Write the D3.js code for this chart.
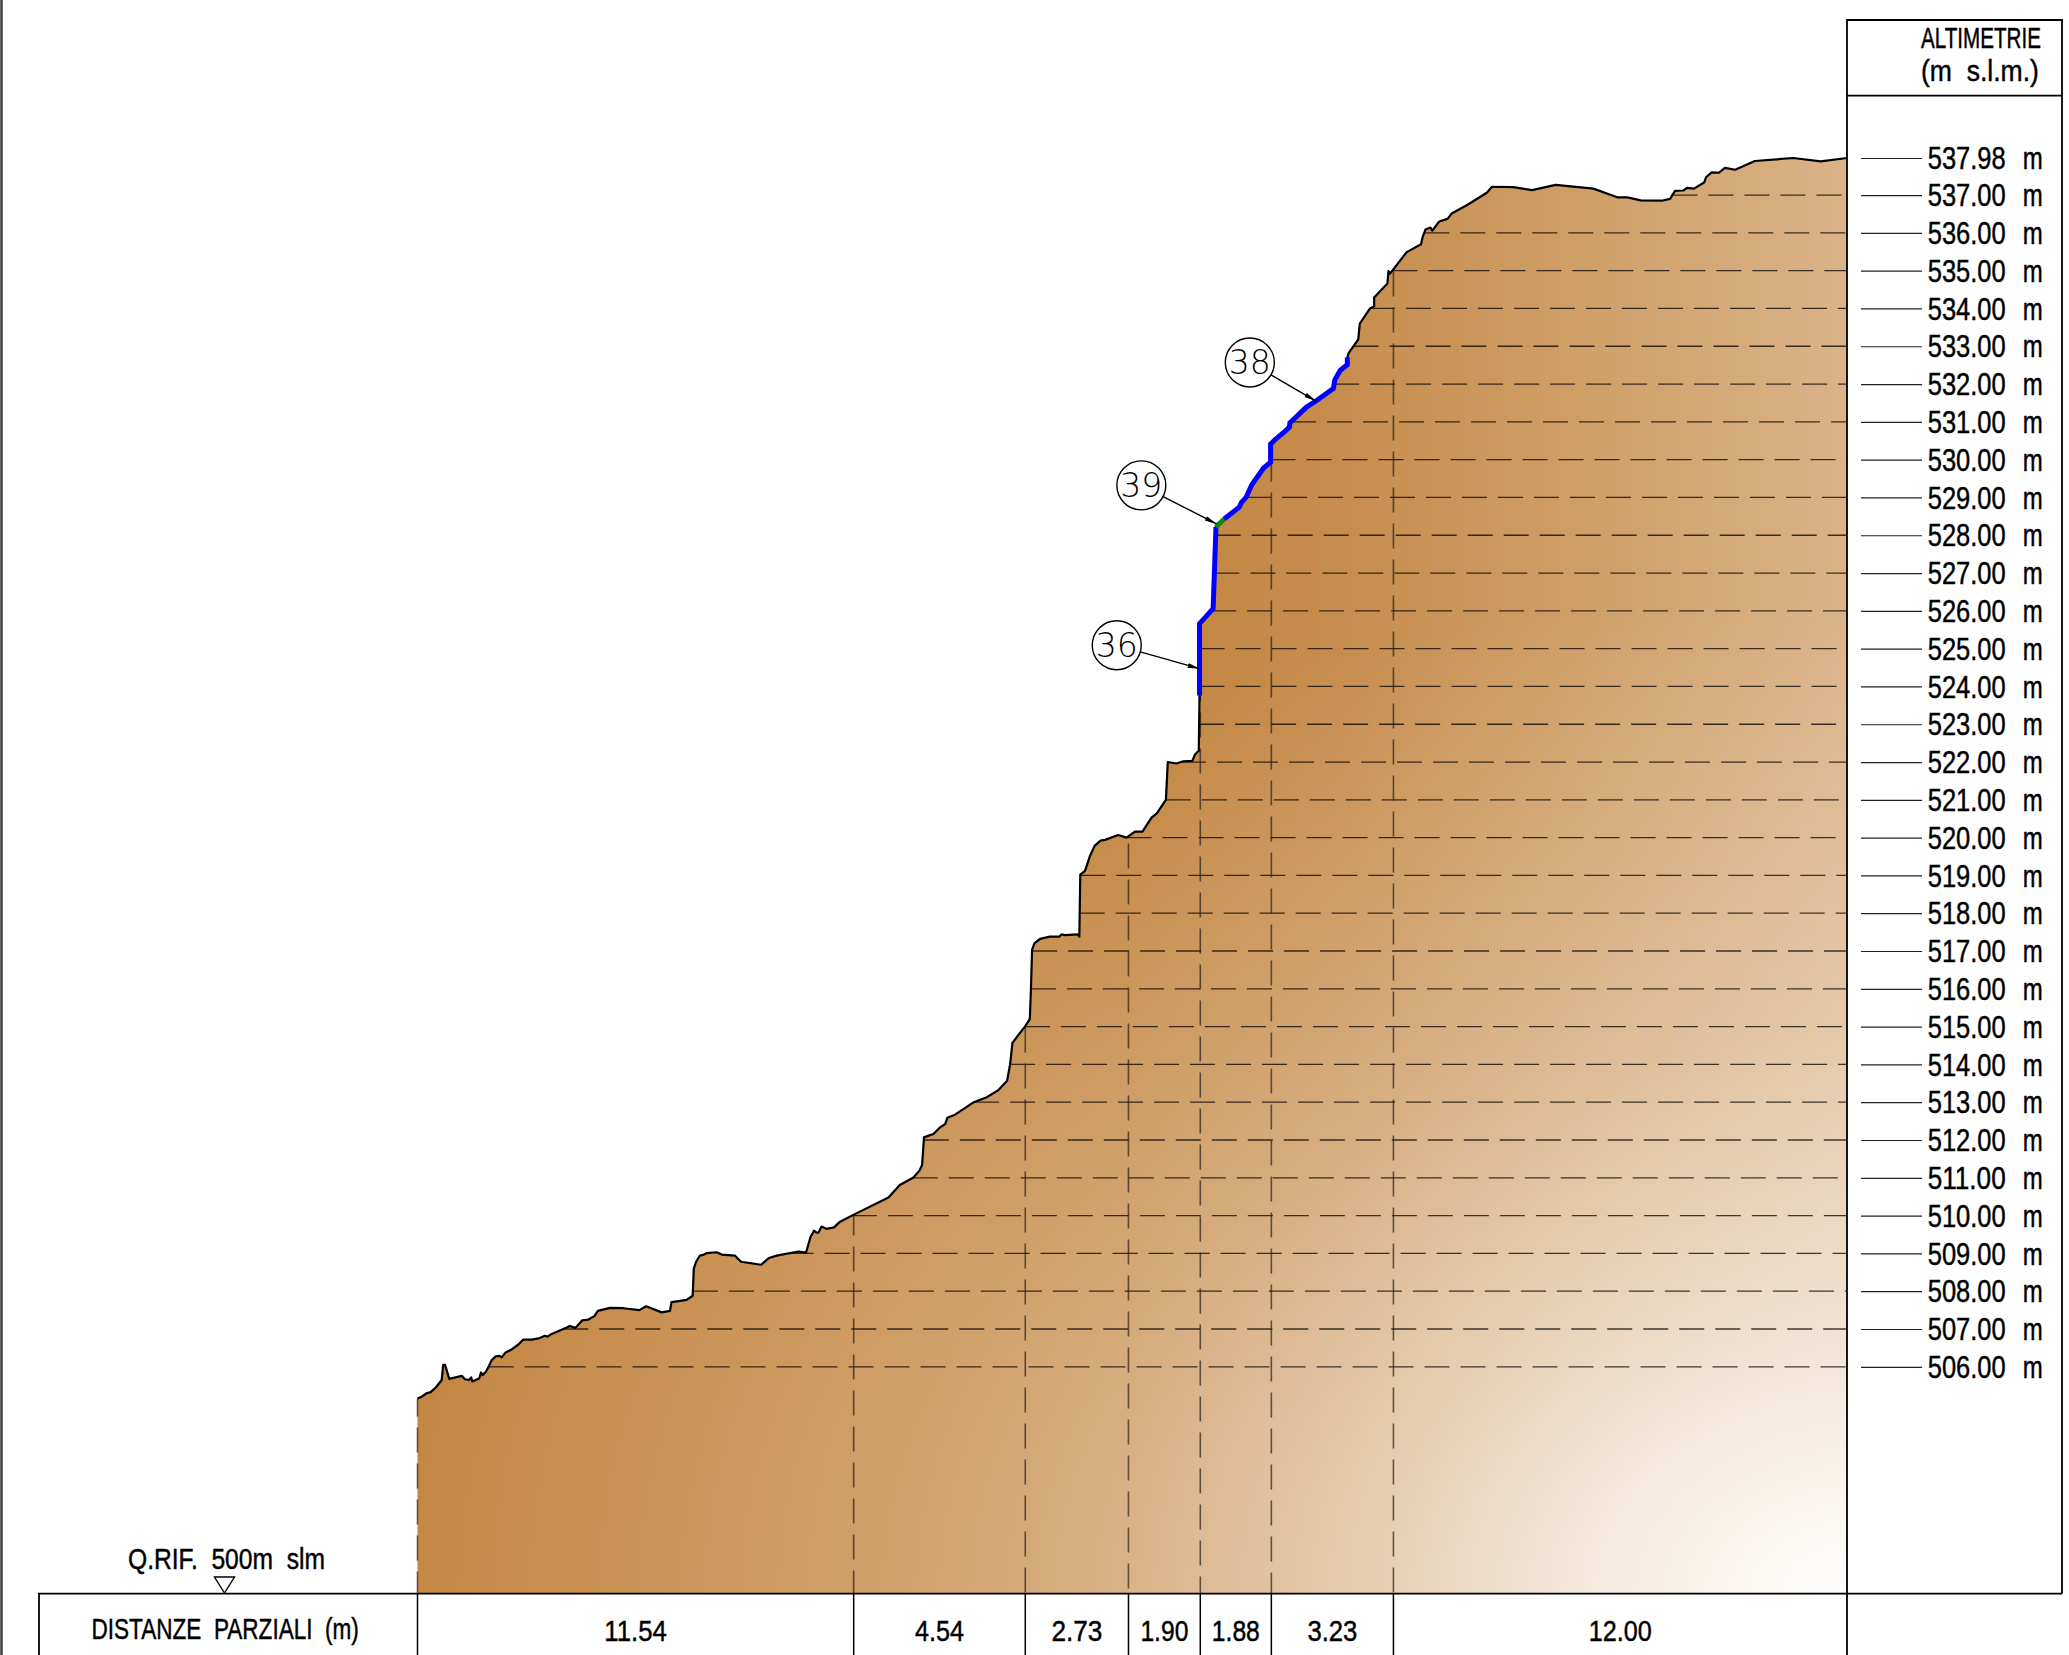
<!DOCTYPE html>
<html>
<head>
<meta charset="utf-8">
<script src="https://cdnjs.cloudflare.com/ajax/libs/d3/7.8.5/d3.min.js"></script>
<style>
  html, body { margin: 0; padding: 0; background: #fff; }
  svg { display: block; }
  text { font-family: "Liberation Sans", sans-serif; fill: #000; white-space: pre; stroke: #000; stroke-width: 0.45px; }
</style>
</head>
<body>
<div id="chart"></div>
<script>
// distance along the section (m), elevation (m s.l.m.)
const profile = [
  [0,505.16],[0.11,505.21],[0.24,505.30],[0.35,505.33],[0.49,505.46],[0.64,505.65],[0.68,506.05],[0.73,506.05],
  [0.84,505.68],[1.17,505.76],[1.26,505.67],[1.36,505.65],[1.42,505.72],[1.45,505.61],[1.63,505.69],[1.68,505.85],
  [1.72,505.78],[1.81,505.87],[1.89,506.02],[1.96,506.17],[2.07,506.28],[2.17,506.29],[2.23,506.25],[2.32,506.37],
  [2.49,506.46],[2.67,506.59],[2.80,506.72],[3.02,506.72],[3.20,506.75],[3.37,506.82],[3.44,506.80],[3.55,506.87],
  [3.95,507.04],[4.03,507.08],[4.18,507.03],[4.36,507.23],[4.52,507.25],[4.68,507.34],[4.77,507.48],[5.09,507.56],
  [5.45,507.55],[5.87,507.50],[6.05,507.60],[6.46,507.44],[6.68,507.48],[6.72,507.71],[6.86,507.73],[7.12,507.77],
  [7.28,507.88],[7.31,508.60],[7.37,508.78],[7.47,508.94],[7.56,508.96],[7.65,509.01],[7.91,509.03],[8.05,508.97],
  [8.40,508.94],[8.56,508.78],[9.09,508.70],[9.30,508.88],[9.50,508.94],[10.08,509.05],[10.28,509.02],[10.40,509.44],
  [10.49,509.60],[10.56,509.55],[10.61,509.55],[10.69,509.71],[10.82,509.65],[11.02,509.69],[11.18,509.84],[11.53,510.02],
  [12.46,510.48],[12.76,510.81],[13.12,511.01],[13.28,511.19],[13.35,511.34],[13.40,512.07],[13.56,512.13],[13.65,512.16],
  [13.82,512.33],[13.96,512.42],[14.02,512.59],[14.22,512.67],[14.70,512.99],[15.06,513.13],[15.37,513.32],[15.60,513.57],
  [15.68,514.01],[15.74,514.57],[15.90,514.78],[16.07,515.00],[16.20,515.20],[16.23,516.01],[16.26,517.03],[16.32,517.20],
  [16.47,517.32],[16.73,517.38],[16.98,517.38],[17.04,517.44],[17.13,517.42],[17.46,517.44],[17.51,517.38],[17.535,519.02],
  [17.66,519.12],[17.79,519.51],[17.92,519.79],[18.07,519.92],[18.19,519.94],[18.54,520.07],[18.76,520.00],[18.98,520.16],
  [19.18,520.16],[19.42,520.53],[19.56,520.64],[19.80,521.00],[19.85,522.00],[20.08,521.96],[20.26,522.02],[20.50,522.03],
  [20.57,522.20],[20.67,522.30],[20.69,523.76],[20.69,525.66],[21.05,526.06],[21.125,528.22],[21.34,528.43],[21.74,528.74],
  [21.80,528.87],[21.92,529.00],[22.07,529.33],[22.38,529.77],[22.57,529.93],[22.57,530.41],[22.69,530.53],[22.95,530.75],
  [23.07,530.86],[23.08,530.97],[23.52,531.39],[23.77,531.55],[24.23,531.88],[24.27,532.11],[24.41,532.36],[24.60,532.51],
  [24.60,532.70],[24.63,532.81],[24.89,533.18],[24.93,533.60],[25.20,534.00],[25.31,534.06],[25.31,534.29],[25.66,534.66],
  [25.69,534.99],[25.73,534.92],[26.17,535.49],[26.55,535.70],[26.59,535.88],[26.67,536.09],[26.80,536.14],[26.85,536.06],
  [27.03,536.30],[27.25,536.37],[27.36,536.51],[27.76,536.73],[28.29,537.06],[28.43,537.22],[28.99,537.21],[29.49,537.13],
  [30.11,537.27],[31.11,537.17],[31.74,536.94],[32.01,536.94],[32.36,536.86],[32.92,536.85],[33.14,536.90],[33.27,537.11],
  [33.49,537.12],[33.59,537.19],[33.77,537.17],[34.04,537.33],[34.09,537.47],[34.24,537.60],[34.43,537.59],[34.59,537.72],
  [34.86,537.67],[35.38,537.90],[36.40,537.98],[37.12,537.89],[37.82,537.98]
];
const blueStretch = [
  [20.69,523.76],[20.69,525.66],[21.05,526.06],[21.125,528.22]
];
const blueStretchUpper = [
  [21.34,528.43],[21.74,528.74],[21.80,528.87],[21.92,529.00],[22.07,529.33],[22.38,529.77],[22.57,529.93],[22.57,530.41],
  [22.69,530.53],[22.95,530.75],[23.07,530.86],[23.08,530.97],[23.52,531.39],[23.77,531.55],[24.23,531.88],[24.27,532.11],
  [24.41,532.36],[24.60,532.51],[24.60,532.70]
];
const greenStretch = [[21.125,528.22],[21.34,528.43]];

const elevationTicks = [537.98,537,536,535,534,533,532,531,530,529,528,527,526,525,524,523,522,521,520,
  519,518,517,516,515,514,513,512,511,510,509,508,507,506];
const partialDistances = [11.54,4.54,2.73,1.90,1.88,3.23,12.00];
const partialLabels = ["11.54","4.54","2.73","1.90","1.88","3.23","12.00"];

// callouts: number, where the circle sits and the point of the profile it refers to
const callouts = [
  {label:"36", d:18.50, e:525.09, to:[20.69,524.47]},
  {label:"38", d:22.02, e:532.57, to:[23.77,531.55]},
  {label:"39", d:19.15, e:529.32, to:[21.14,528.30]}
];

const width = 2069, height = 1655;
const svg = d3.select("#chart").append("svg").attr("width", width).attr("height", height);

const x = d3.scaleLinear().domain([0, 37.82]).range([417.5, 1847]);
const y = d3.scaleLinear().domain([500, 537.98]).range([1593.6, 158]);

// ground: left to right ramp, with a white glow from the bottom right corner on top
const defs = svg.append("defs");
const ramp = defs.append("linearGradient")
  .attr("id", "ground").attr("gradientUnits", "userSpaceOnUse")
  .attr("x1", 417).attr("y1", 0).attr("x2", 1847).attr("y2", 0);
[[0,"#c3843f"],[0.5,"#c3853f"],[0.65,"#c78d4e"],[0.79,"#ce9c63"],[1,"#dab388"]]
  .forEach(s => ramp.append("stop").attr("offset", s[0]).attr("stop-color", s[1]));
const glow = defs.append("radialGradient")
  .attr("id", "glow").attr("gradientUnits", "userSpaceOnUse")
  .attr("cx", 0).attr("cy", 0).attr("r", 1)
  .attr("gradientTransform", "translate(1847,1593) scale(1500,1000)");
[[0,0.98],[0.065,0.9],[0.165,0.78],[0.3,0.58],[0.55,0.3],[0.66,0.22],[0.765,0.15],[1,0]]
  .forEach(s => glow.append("stop").attr("offset", s[0]).attr("stop-color", "#fff").attr("stop-opacity", s[1]));

defs.append("marker").attr("id", "arrow")
  .attr("viewBox", "0 0 12 6").attr("refX", 12).attr("refY", 3)
  .attr("markerWidth", 12).attr("markerHeight", 6).attr("markerUnits", "userSpaceOnUse")
  .attr("orient", "auto")
  .append("path").attr("d", "M0,0.6L12,3L0,5.4Z").attr("fill", "#000");

const area = d3.area().x(d => x(d[0])).y0(y(500)).y1(d => y(d[1]));
const line = d3.line().x(d => x(d[0])).y(d => y(d[1]));

// elevation of the ground at a distance, and the last place a level meets it
function groundAt(dist) {
  const i = d3.bisectLeft(profile.map(p => p[0]), dist);
  if (i <= 0) return profile[0][1];
  if (i >= profile.length) return profile[profile.length - 1][1];
  const a = profile[i - 1], b = profile[i];
  return b[0] === a[0] ? b[1] : a[1] + (b[1] - a[1]) * (dist - a[0]) / (b[0] - a[0]);
}
function crossing(level) {
  for (let i = profile.length - 1; i > 0; i--) {
    const a = profile[i - 1], b = profile[i];
    if (a[1] <= level && b[1] >= level) {
      return b[1] === a[1] ? a[0] : a[0] + (b[0] - a[0]) * (level - a[1]) / (b[1] - a[1]);
    }
  }
  return 0;
}

// squeeze a text to a width, the original drawing font is a narrow one
function squeeze(node, len) {
  const left = +node.getAttribute("x") || 0, base = +node.getAttribute("y") || 0;
  const sx = len / node.getComputedTextLength();
  node.setAttribute("x", 0);
  node.setAttribute("y", 0);
  node.setAttribute("transform", `translate(${left},${base}) scale(${sx},1)`);
}

svg.append("path").datum(profile).attr("d", area).attr("fill", "url(#ground)");
svg.append("path").datum(profile).attr("d", area).attr("fill", "url(#glow)");

// horizontal level lines
svg.append("g").selectAll("line")
  .data(elevationTicks.filter(v => v !== 537.98))
  .join("line")
  .attr("x1", d => x(crossing(d))).attr("x2", x(37.82))
  .attr("y1", d => y(d)).attr("y2", d => y(d))
  .attr("stroke", "#000").attr("stroke-opacity", 0.75).attr("stroke-width", 1.3)
  .attr("stroke-dasharray", "25 11");

// vertical dashed lines at each section point
const stations = [0].concat(Array.from(d3.cumsum(partialDistances)));
const lastDash = [22, 23, 26, 30, 17, 21, 26];
svg.append("g").selectAll("line")
  .data(stations.slice(0, -1))
  .join("line")
  .attr("x1", d => x(d)).attr("x2", d => x(d))
  .attr("y1", y(500)).attr("y2", d => y(groundAt(d)))
  .attr("stroke", "#2a2018").attr("stroke-opacity", 0.7).attr("stroke-width", 1.6)
  .attr("stroke-dasharray", "25 11")
  .attr("stroke-dashoffset", (d, i) => 25 - lastDash[i]);

// ground profile
svg.append("path").datum(profile).attr("d", line)
  .attr("fill", "none").attr("stroke", "#000").attr("stroke-width", 2.2).attr("stroke-linejoin", "round");
[blueStretch, blueStretchUpper].forEach(s => {
  svg.append("path").datum(s).attr("d", line)
    .attr("fill", "none").attr("stroke", "#0000ff").attr("stroke-width", 5);
});
svg.append("path").datum(greenStretch).attr("d", line)
  .attr("fill", "none").attr("stroke", "#0a8a12").attr("stroke-width", 5);

// numbered callouts
const r = 24.5;
const call = svg.append("g").selectAll("g").data(callouts).join("g");
call.append("line")
  .each(function(d) {
    const cx = x(d.d), cy = y(d.e), tx = x(d.to[0]), ty = y(d.to[1]);
    const len = Math.hypot(tx - cx, ty - cy);
    d3.select(this)
      .attr("x1", cx + (tx - cx) / len * r).attr("y1", cy + (ty - cy) / len * r)
      .attr("x2", tx).attr("y2", ty);
  })
  .attr("stroke", "#000").attr("stroke-width", 1.4).attr("marker-end", "url(#arrow)");
call.append("circle")
  .attr("cx", d => x(d.d)).attr("cy", d => y(d.e)).attr("r", r)
  .attr("fill", "#fff").attr("stroke", "#000").attr("stroke-width", 1.4);
call.append("text")
  .attr("x", d => x(d.d)).attr("y", d => y(d.e) + 12)
  .attr("text-anchor", "middle")
  .style("font-family", '"DejaVu Sans ExtraLight", "DejaVu Sans", sans-serif')
  .style("font-weight", 200)
  .style("font-size", "33px")
  .style("stroke-width", 0)
  .text(d => d.label);

// altimetry column
const frame = svg.append("g").attr("fill", "none").attr("stroke", "#000").attr("stroke-width", 1.8);
frame.append("path").attr("d", "M1847,1655V20H2062V1593.6");
frame.append("path").attr("d", "M1847,95.7H2062");
frame.append("path").attr("d", "M39,1655V1593.6H2062");
frame.append("path").attr("d", "M1.5,0V1655").attr("stroke", "#444").attr("stroke-width", 2.6);

const yAxis = d3.axisRight(y)
  .tickValues(elevationTicks)
  .tickSize(61)
  .tickPadding(5.7)
  .tickFormat(d => d.toFixed(2));
const axisG = svg.append("g").attr("transform", "translate(1861,0)").call(yAxis);
axisG.select(".domain").remove();
axisG.selectAll(".tick line").attr("stroke", "#222").attr("stroke-width", 1.2);
axisG.selectAll(".tick text")
  .attr("y", 10.6).attr("dy", null).attr("text-anchor", "start")
  .style("font-size", "31px").style("font-family", '"Liberation Sans", sans-serif')
  .each(function() { squeeze(this, 78); });
axisG.selectAll(".tick").append("text")
  .attr("x", 161.7).attr("y", 10.6)
  .attr("fill", "#000")
  .style("font-size", "31px").style("font-family", '"Liberation Sans", sans-serif')
  .text("m")
  .each(function() { squeeze(this, 20); });

function label(str, left, base, len, size) {
  svg.append("text").attr("x", left).attr("y", base)
    .style("font-size", size + "px").text(str)
    .each(function() { squeeze(this, len); });
}
label("ALTIMETRIE", 1921, 48, 120, 30);
label("(m  s.l.m.)", 1921, 81, 118, 30);
label("Q.RIF.  500m  slm", 128, 1569, 197, 30);
label("DISTANZE  PARZIALI  (m)", 91.5, 1639, 267.5, 30);

// reference level marker
svg.append("path").attr("d", d3.line()([[214.5,1577],[234.5,1577],[224.5,1593]]) + "Z")
  .attr("fill", "#fff").attr("stroke", "#000").attr("stroke-width", 1.4);

// bottom table
const labelWidths = [62.5, 49, 51, 48, 48, 50, 63];
svg.append("g").selectAll("line").data(stations.slice(0, -1)).join("line")
  .attr("x1", d => x(d)).attr("x2", d => x(d))
  .attr("y1", y(500)).attr("y2", height)
  .attr("stroke", "#000").attr("stroke-width", 1.5);
svg.append("g").selectAll("text").data(partialLabels).join("text")
  .attr("x", (d, i) => (x(stations[i]) + x(stations[i + 1])) / 2)
  .attr("y", 1641)
  .attr("text-anchor", "middle")
  .style("font-size", "30px")
  .text(d => d)
  .each(function(d, i) { squeeze(this, labelWidths[i]); });
</script>
</body>
</html>
